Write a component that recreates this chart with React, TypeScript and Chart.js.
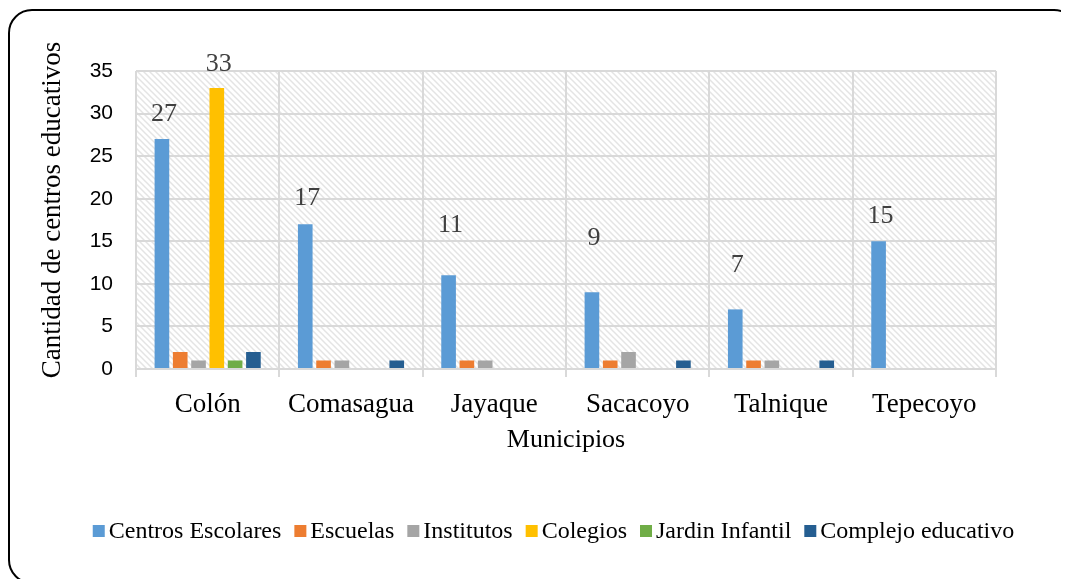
import React, { useEffect, useRef } from "react";
import { Chart, registerables } from "chart.js";

Chart.register(...registerables);

const municipios = ["Colón", "Comasagua", "Jayaque", "Sacacoyo", "Talnique", "Tepecoyo"];
const centrosEscolares = [27, 17, 11, 9, 7, 15];
const escuelas = [2, 1, 1, 1, 1, 0];
const institutos = [1, 1, 1, 2, 1, 0];
const colegios = [33, 0, 0, 0, 0, 0];
const jardinInfantil = [1, 0, 0, 0, 0, 0];
const complejoEducativo = [2, 1, 0, 1, 1, 0];
const yMin = 0;
const yMax = 35;
const yStep = 5;
const yTitle = "Cantidad de centros educativos";
const xTitle = "Municipios";

// vertical lift (px) of the value labels above the bars, as placed in the source
const labelLiftCentros = [25, 26, 50, 54, 44, 25];
const labelLiftColegios = [24, 0, 0, 0, 0, 0];

const W = 1061;
const H = 571;
const SERIF = '"Liberation Serif", "Times New Roman", serif';

function makeHatch(ctx: CanvasRenderingContext2D) {
  const c = document.createElement("canvas");
  const s = 6;
  c.width = s;
  c.height = s;
  const g = c.getContext("2d")!;
  g.fillStyle = "#ffffff";
  g.fillRect(0, 0, s, s);
  g.strokeStyle = "#e4e4e4";
  g.lineWidth = 1.5;
  g.beginPath();
  g.moveTo(-1, -1);
  g.lineTo(s + 1, s + 1);
  g.moveTo(-1, s - 1);
  g.lineTo(1, s + 1);
  g.moveTo(s - 1, -1);
  g.lineTo(s + 1, 1);
  g.stroke();
  return ctx.createPattern(c, "repeat")!;
}

const hatchPlugin = {
  id: "hatchBg",
  beforeDraw(chart: any) {
    const { ctx, chartArea } = chart;
    if (!chartArea) return;
    ctx.save();
    ctx.fillStyle = makeHatch(ctx);
    ctx.fillRect(chartArea.left, chartArea.top, chartArea.right - chartArea.left, chartArea.bottom - chartArea.top);
    ctx.restore();
  },
};

const valueLabelPlugin = {
  id: "valueLabels",
  afterDatasetsDraw(chart: any) {
    const { ctx } = chart;
    ctx.save();
    ctx.font = `26px ${SERIF}`;
    ctx.fillStyle = "#404040";
    ctx.textAlign = "center";
    ctx.textBaseline = "middle";
    const specs = [
      { ds: 0, lifts: labelLiftCentros },
      { ds: 3, lifts: labelLiftColegios },
    ];
    specs.forEach(({ ds, lifts }) => {
      const meta = chart.getDatasetMeta(ds);
      const data = chart.data.datasets[ds].data as number[];
      meta.data.forEach((bar: any, i: number) => {
        const v = data[i];
        if (!v) return;
        ctx.fillText(String(v), bar.x + 2, bar.y - lifts[i]);
      });
    });
    ctx.restore();
  },
};

const decorPlugin = {
  id: "decor",
  afterDraw(chart: any) {
    const { ctx, chartArea } = chart;
    ctx.save();
    // y axis title
    ctx.font = `27px ${SERIF}`;
    ctx.fillStyle = "#000000";
    ctx.textAlign = "center";
    ctx.textBaseline = "middle";
    ctx.translate(45, (chartArea.top + chartArea.bottom) / 2 - 10);
    ctx.rotate(-Math.PI / 2);
    ctx.fillText(yTitle, 0, 0);
    ctx.restore();

    // legend
    ctx.save();
    ctx.font = `24px ${SERIF}`;
    ctx.textBaseline = "middle";
    ctx.textAlign = "left";
    const items = chart.data.datasets.map((d: any) => ({ label: d.label, color: d.backgroundColor }));
    const box = 12;
    const gapBox = 4;
    const gapItem = 13;
    const widths = items.map((it: any) => box + gapBox + ctx.measureText(it.label).width);
    const total = widths.reduce((a: number, b: number) => a + b, 0) + gapItem * (items.length - 1);
    let x = 545.5 - total / 2;
    const y = 523;
    items.forEach((it: any, i: number) => {
      ctx.fillStyle = it.color;
      ctx.fillRect(x, y - 6, box, box);
      ctx.fillStyle = "#000000";
      ctx.fillText(it.label, x + box + gapBox, y + 1);
      x += widths[i] + gapItem;
    });
    ctx.restore();
  },
};

export default function App() {
  const ref = useRef<HTMLCanvasElement | null>(null);

  useEffect(() => {
    if (!ref.current) return;
    const gridColor = "#d9d9d9";
    const chart = new Chart(ref.current, {
      type: "bar",
      data: {
        labels: municipios,
        datasets: [
          { label: "Centros Escolares", data: centrosEscolares, backgroundColor: "#5B9BD5" },
          { label: "Escuelas", data: escuelas, backgroundColor: "#ED7D31" },
          { label: "Institutos", data: institutos, backgroundColor: "#A5A5A5" },
          { label: "Colegios", data: colegios, backgroundColor: "#FFC000" },
          { label: "Jardin Infantil", data: jardinInfantil, backgroundColor: "#70AD47" },
          { label: "Complejo educativo", data: complejoEducativo, backgroundColor: "#255E91" },
        ],
      },
      options: {
        responsive: false,
        animation: false,
        devicePixelRatio: 1,
        categoryPercentage: 0.766,
        barPercentage: 0.8,
        layout: { padding: { left: 0, right: 73, top: 63, bottom: 70 } },
        plugins: {
          legend: { display: false },
          tooltip: { enabled: false },
        },
        scales: {
          x: {
            grid: { color: gridColor, lineWidth: 2, tickLength: 8, drawTicks: true, offset: true },
            border: { color: gridColor, width: 2 },
            ticks: { color: "#000000", padding: 12, font: { family: SERIF, size: 27 } },
            title: {
              display: true,
              text: xTitle,
              color: "#000000",
              font: { family: SERIF, size: 26 },
              padding: { top: 0, bottom: 53 },
            },
            afterFit: (s: any) => {
              s.height = 140;
            },
          },
          y: {
            min: yMin,
            max: yMax,
            ticks: {
              stepSize: yStep,
              color: "#000000",
              padding: 23,
              font: { family: '"Liberation Sans", Arial, sans-serif', size: 21 },
            },
            grid: { color: gridColor, lineWidth: 2, drawTicks: false },
            border: { display: false },
            afterFit: (s: any) => {
              s.width = 128;
            },
          },
        },
      },
      plugins: [hatchPlugin, valueLabelPlugin, decorPlugin],
    });
    return () => chart.destroy();
  }, []);

  return (
    <div style={{ position: "relative", width: W, height: H, overflow: "hidden", background: "#fff" }}>
      <div
        style={{
          position: "absolute",
          left: 0,
          top: 1,
          width: 1070,
          height: 575,
          border: "2px solid #000",
          borderRadius: 24,
          boxSizing: "border-box",
        }}
      />
      <canvas ref={ref} width={W} height={H} style={{ position: "absolute", left: 0, top: 0, width: W, height: H }} />
    </div>
  );
}
